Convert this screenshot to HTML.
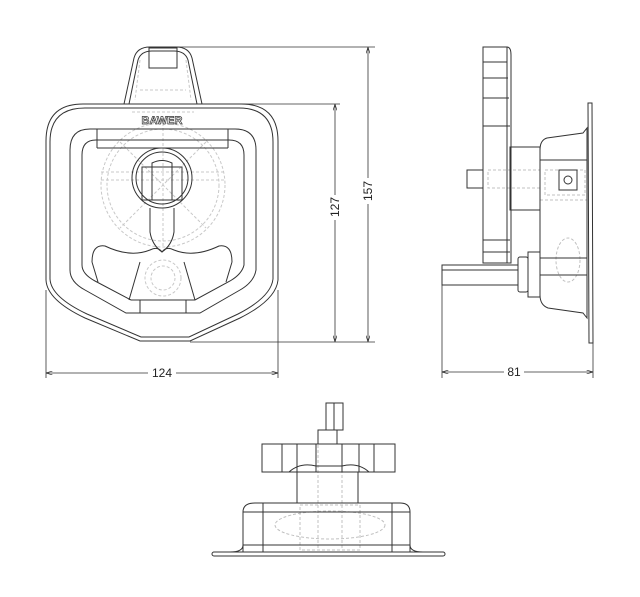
<!DOCTYPE html>
<html><head><meta charset="utf-8"><style>
html,body{margin:0;padding:0;background:#fff}
svg{display:block}
text{font-family:"Liberation Sans",sans-serif;font-size:12px;fill:#222}
</style></head><body>
<svg width="640" height="597" viewBox="0 0 640 597" xmlns="http://www.w3.org/2000/svg">
<defs>
<marker id="a" viewBox="0 0 10 6" refX="10" refY="3" markerWidth="8" markerHeight="5" orient="auto-start-reverse"><path d="M0,0L10,3L0,6" fill="none" stroke="#222" stroke-width="1"/></marker>
</defs>
<!-- hidden lines front -->
<g fill="none" stroke="#c8c8c8" stroke-width="1" stroke-dasharray="3,2">
<circle cx="163" cy="185" r="62"/>
<circle cx="163" cy="185" r="56"/>
<line x1="101" y1="172" x2="225" y2="172"/>
<line x1="101" y1="180" x2="225" y2="180"/>
<line x1="163" y1="123" x2="163" y2="247"/>
<line x1="120" y1="142" x2="206" y2="228"/>
<line x1="206" y1="142" x2="120" y2="228"/>
<path d="M140 60 L135 100 M186 60 L191 100 M140 90 L186 90 M132 112 L194 112"/>
<circle cx="163" cy="278" r="18"/>
<circle cx="163" cy="278" r="12"/>
</g>
<!-- front view -->
<g fill="none" stroke="#333" stroke-width="1">
<path d="M124 104 L134 58 Q137 47 150 47 L176 47 Q189 47 192 58 L202 104"/>
<path d="M129 104 L138 60 Q141 51 152 51 L174 51 Q185 51 188 60 L197 104"/>
<rect x="149" y="48" width="28" height="20"/>
<path d="M83 104 L241 104 Q278 104 278 141 L278 280 Q276 300 240 318 L190 341 L140 341 L85 318 Q47 300 46 280 L46 141 Q46 104 83 104 Z"/>
<path d="M85 108 L239 108 Q273 108 273 142 L273 279 Q271 297 238 314 L189 337 L141 337 L87 314 Q51 297 50 279 L50 142 Q50 108 85 108 Z"/>
<path d="M90 129 L235 129 Q256 129 256 150 L256 270 Q254 282 240 290 L200 313 L126 313 L85 290 Q70 282 70 270 L70 150 Q70 129 90 129 Z"/>
<path d="M96 140 L229 140 Q244 140 244 155 L244 265 Q242 274 230 281 L195 300 L131 300 L95 281 Q82 274 82 265 L82 155 Q82 140 96 140 Z"/>
<line x1="97" y1="129" x2="97" y2="148"/><line x1="228" y1="129" x2="228" y2="148"/>
<line x1="97" y1="148" x2="228" y2="148"/>
<circle cx="162" cy="178" r="30"/>
<circle cx="162" cy="178" r="26"/>
<rect x="142" y="167" width="40" height="33"/>
<path d="M152 200 L152 163 Q162 158 172 163 L172 200"/>
<path d="M150 208 L150 232 Q152 245 162 252 Q172 245 174 232 L174 208"/>
<path d="M92 262 Q92 244 105 246 Q130 258 150 250 Q158 246 162 252 Q166 246 174 250 Q194 258 219 246 Q232 244 232 262"/>
<path d="M92 262 L98 282 M232 262 L226 282"/>
<line x1="140" y1="262" x2="129" y2="300"/><line x1="184" y1="262" x2="195" y2="300"/>
<line x1="140" y1="300" x2="140" y2="313"/><line x1="186" y1="300" x2="186" y2="313"/>
</g>
<text x="162" y="124" text-anchor="middle" style="font-size:11px;font-weight:bold;fill:#fff;stroke:#333;stroke-width:0.7">BAWER</text>
<!-- dims front -->
<g fill="none" stroke="#333" stroke-width="0.8">
<line x1="177" y1="47" x2="375" y2="47"/>
<line x1="240" y1="104" x2="340" y2="104"/>
<line x1="190" y1="342" x2="375" y2="342"/>
<line x1="335" y1="104" x2="335" y2="195" marker-start="url(#a)"/>
<line x1="335" y1="220" x2="335" y2="342" marker-end="url(#a)"/>
<line x1="368" y1="47" x2="368" y2="178" marker-start="url(#a)"/>
<line x1="368" y1="204" x2="368" y2="342" marker-end="url(#a)"/>
<line x1="46" y1="290" x2="46" y2="378"/>
<line x1="278" y1="290" x2="278" y2="378"/>
<line x1="46" y1="373" x2="148" y2="373" marker-start="url(#a)"/>
<line x1="176" y1="373" x2="278" y2="373" marker-end="url(#a)"/>
</g>
<text x="162" y="377" text-anchor="middle">124</text>
<text transform="translate(339,207) rotate(-90)" text-anchor="middle">127</text>
<text transform="translate(372,191) rotate(-90)" text-anchor="middle">157</text>
<!-- side view -->
<g fill="none" stroke="#c0c0c0" stroke-width="1" stroke-dasharray="3,2">
<rect x="488" y="170" width="52" height="18"/>
<rect x="545" y="170" width="40" height="25"/>
<ellipse cx="568" cy="260" rx="12" ry="22"/>
<line x1="540" y1="200" x2="587" y2="200"/>
</g>
<g fill="none" stroke="#333" stroke-width="1">
<path d="M483 47 L507 47 Q511 47 511 55 L511 263 L483 263 Z"/>
<line x1="507" y1="47" x2="507" y2="263"/>
<line x1="483" y1="62" x2="507" y2="62"/><line x1="483" y1="78" x2="508" y2="78"/>
<line x1="483" y1="98" x2="509" y2="98"/><line x1="483" y1="126" x2="510" y2="126"/>
<line x1="483" y1="240" x2="510" y2="240"/><line x1="483" y1="252" x2="510" y2="252"/>
<rect x="510" y="147" width="30" height="63"/>
<rect x="467" y="170" width="16" height="18"/>
<path d="M547 138 L583 133 L587 128 L587 318 L583 313 L548 308 Q540 305 540 295 L540 150 Q540 140 547 138 Z"/>
<line x1="540" y1="160" x2="587" y2="160"/>
<line x1="540" y1="258" x2="587" y2="258"/>
<line x1="540" y1="275" x2="587" y2="275"/>
<rect x="559" y="170" width="18" height="20"/>
<circle cx="568" cy="180" r="4"/>
<path d="M588 103 L592 103 L593 343 L589 343 Z"/>
<rect x="442" y="265" width="76" height="20"/>
<line x1="442" y1="270" x2="518" y2="270"/>
<rect x="518" y="257" width="10" height="35" rx="2"/>
<rect x="528" y="252" width="12" height="45"/>
</g>
<g fill="none" stroke="#333" stroke-width="0.8">
<line x1="442" y1="285" x2="442" y2="378"/>
<line x1="593" y1="343" x2="593" y2="378"/>
<line x1="442" y1="372" x2="504" y2="372" marker-start="url(#a)"/>
<line x1="524" y1="372" x2="593" y2="372" marker-end="url(#a)"/>
</g>
<text x="514" y="376" text-anchor="middle">81</text>
<!-- bottom view -->
<g fill="none" stroke="#c0c0c0" stroke-width="1" stroke-dasharray="3,2">
<rect x="300" y="505" width="60" height="45"/>
<ellipse cx="330" cy="525" rx="55" ry="14"/>
<line x1="318" y1="445" x2="318" y2="550"/><line x1="342" y1="445" x2="342" y2="550"/>
</g>
<g fill="none" stroke="#333" stroke-width="1">
<rect x="326" y="403" width="17" height="27"/>
<line x1="334" y1="403" x2="334" y2="430"/>
<rect x="318" y="430" width="19" height="14"/>
<rect x="262" y="444" width="133" height="28"/>
<line x1="282" y1="444" x2="282" y2="472"/><line x1="297" y1="444" x2="297" y2="472"/>
<line x1="316" y1="444" x2="316" y2="472"/><line x1="342" y1="444" x2="342" y2="472"/>
<line x1="359" y1="444" x2="359" y2="472"/><line x1="374" y1="444" x2="374" y2="472"/>
<path d="M289 472 Q300 462 316 466 L342 466 Q358 462 369 472"/>
<rect x="297" y="472" width="61" height="31"/>
<path d="M243 552 L243 512 Q243 503 255 503 L400 503 Q410 503 410 512 L410 552"/>
<path d="M243 545 Q243 552 230 552 M410 545 Q410 552 423 552"/>
<line x1="243" y1="512" x2="410" y2="512"/>
<line x1="243" y1="545" x2="410" y2="545"/>
<line x1="263" y1="503" x2="263" y2="552"/><line x1="392" y1="503" x2="392" y2="552"/>
<rect x="212" y="552" width="233" height="4" rx="2"/>
</g>
</svg>
</body></html>
